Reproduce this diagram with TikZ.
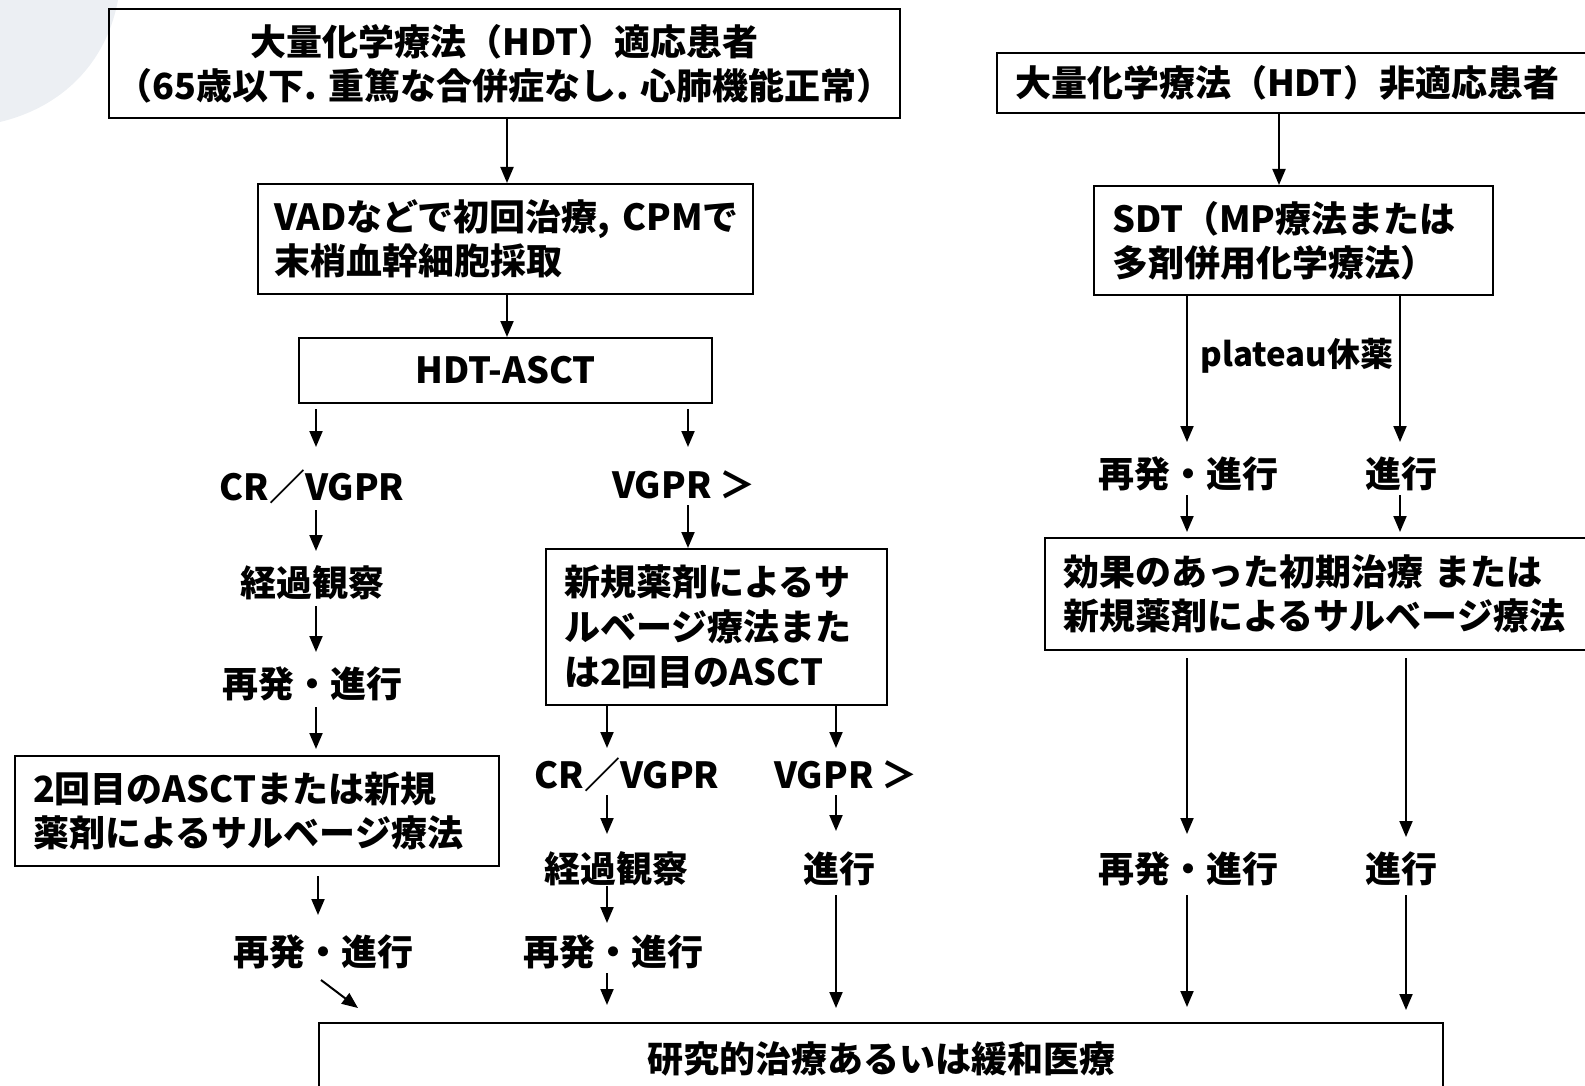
\documentclass[tikz,border=0pt]{standalone}
\usepackage{fontspec}
\setmainfont{Noto Sans CJK JP}
\usetikzlibrary{arrows.meta,calc}
\definecolor{swoosh}{RGB}{236,239,243}
\begin{document}
\begin{tikzpicture}[x=1pt,y=-1pt,
  every node/.style={font=\fontsize{36}{44}\selectfont\bfseries},
  box/.style={draw, line width=2pt, inner sep=0pt},
  lbox/.style={box, align=left, inner xsep=18pt},
  lab/.style={inner sep=0pt},
  arr/.style={line width=2pt, -{Triangle[length=16pt,width=13pt]}}]
\useasboundingbox (0,0) rectangle (1585,1086);
% faint template swoosh
\fill[swoosh] (0,0) -- (118,0) .. controls (108,55) and (70,105) .. (0,122) -- cycle;
% columns
\coordinate (cA) at (507,0);
\coordinate (cL) at (316,0);
\coordinate (cL2) at (318,0);
\coordinate (cM) at (688,0);
\coordinate (cM1) at (607,0);
\coordinate (cM2) at (836,0);
\coordinate (cR) at (1279,0);
\coordinate (cR1) at (1187,0);
\coordinate (cR2) at (1400,0);
\coordinate (cR2b) at (1406,0);
% boxes
\node[box, minimum width=791, minimum height=109, align=center] (A) at (504.5,64)
  {大量化学療法（HDT）適応患者\\（65歳以下. 重篤な合併症なし. 心肺機能正常）};
\node[lbox, minimum height=110, inner xsep=16pt, text width=463] (B) at (505.5,239)
  {VADなどで初回治療,~CPMで\\末梢血幹細胞採取};
\node[box, minimum width=413, minimum height=65] (C) at (505.5,370.5) {\raisebox{-2pt}{HDT-ASCT}};
\node[lbox, minimum height=110, text width=448] (D) at (257,811)
  {2回目のASCTまたは新規\\薬剤によるサルベージ療法};
\node[lbox, minimum height=156, text width=305, font=\fontsize{36}{45}\selectfont\bfseries] (E) at (716.5,627)
  {新規薬剤によるサ\\ルベージ療法また\\は2回目のASCT};
\node[lbox, anchor=west, minimum height=60, text width=584] (F) at (996,83)
  {大量化学療法（HDT）非適応患者};
\node[lbox, minimum height=109, text width=363] (G) at (1293.5,240.5)
  {SDT（MP療法または\\多剤併用化学療法）};
\node[lbox, anchor=west, minimum height=112, text width=524] (H) at (1044,594)
  {効果のあった初期治療~または\\新規薬剤によるサルベージ療法};
\node[box, minimum width=1124, minimum height=72] (I) at (881,1059) {研究的治療あるいは緩和医療};
% labels
\node[lab] (crvL) at (312,487) {CR／VGPR};
\node[lab] (vgM) at (684,485) {VGPR ＞};
\node[lab] (obsL) at (312,583) {経過観察};
\node[lab] (relL) at (312,684) {再発・進行};
\node[lab] (relL2) at (323,952) {再発・進行};
\node[lab] (crvM) at (627,775) {CR／VGPR};
\node[lab] (vgM2) at (846,775) {VGPR ＞};
\node[lab] (obsM) at (616,869) {経過観察};
\node[lab] (relM) at (613,952) {再発・進行};
\node[lab] (progM) at (839,869) {進行};
\node[lab, font=\fontsize{33}{40}\selectfont\bfseries] (plat) at (1297,356) {plateau休薬};
\node[lab] (relR1) at (1188,474) {再発・進行};
\node[lab] (progR1) at (1401,474) {進行};
\node[lab] (relR2) at (1188,869) {再発・進行};
\node[lab] (progR2) at (1401,869) {進行};
% connectors
\draw[arr] (A.south -| cA) -- (B.north -| cA);
\draw[arr] (B.south -| cA) -- (C.north -| cA);
\draw[arr] ($(C.south -| cL)+(0,5)$) -- ($(crvL -| cL)+(0,-40)$);
\draw[arr] ($(C.south -| cM)+(0,5)$) -- ($(vgM -| cM)+(0,-38)$);
\draw[arr] ($(crvL -| cL)+(0,23)$) -- ($(obsL -| cL)+(0,-32)$);
\draw[arr] ($(obsL -| cL)+(0,23)$) -- ($(relL -| cL)+(0,-32)$);
\draw[arr] ($(relL -| cL)+(0,23)$) -- ($(D.north -| cL)+(0,-6)$);
\draw[arr] ($(D.south -| cL2)+(0,9)$) -- ($(relL2 -| cL2)+(0,-37)$);
\draw[arr] ($(relL2)+(-2,28)$) -- ($(I.north west)+(40,-14)$);
\draw[arr] ($(vgM -| cM)+(0,20)$) -- (E.north -| cM);
\draw[arr] (E.south -| cM1) -- ($(crvM -| cM1)+(0,-27)$);
\draw[arr] (E.south -| cM2) -- ($(vgM2 -| cM2)+(0,-27)$);
\draw[arr] ($(crvM -| cM1)+(0,20)$) -- ($(obsM -| cM1)+(0,-35)$);
\draw[arr] ($(obsM -| cM1)+(0,17)$) -- ($(relM -| cM1)+(0,-29)$);
\draw[arr] ($(relM -| cM1)+(0,21)$) -- ($(I.north -| cM1)+(0,-17)$);
\draw[arr] ($(vgM2 -| cM2)+(0,20)$) -- ($(progM -| cM2)+(0,-38)$);
\draw[arr] ($(progM -| cM2)+(0,26)$) -- ($(I.north -| cM2)+(0,-14)$);
\draw[arr] (F.south -| cR) -- (G.north -| cR);
\draw[arr] (G.south -| cR1) -- ($(relR1 -| cR1)+(0,-32)$);
\draw[arr] (G.south -| cR2) -- ($(progR1 -| cR2)+(0,-32)$);
\draw[arr] ($(relR1 -| cR1)+(0,21)$) -- ($(H.north -| cR1)+(0,-5)$);
\draw[arr] ($(progR1 -| cR2)+(0,21)$) -- ($(H.north -| cR2)+(0,-5)$);
\draw[arr] ($(H.south -| cR1)+(0,7)$) -- ($(relR2 -| cR1)+(0,-35)$);
\draw[arr] ($(H.south -| cR2b)+(0,7)$) -- ($(progR2 -| cR2b)+(0,-32)$);
\draw[arr] ($(relR2 -| cR1)+(0,26)$) -- ($(I.north -| cR1)+(0,-15)$);
\draw[arr] ($(progR2 -| cR2b)+(0,26)$) -- ($(I.north -| cR2b)+(0,-12)$);
\end{tikzpicture}
\end{document}
